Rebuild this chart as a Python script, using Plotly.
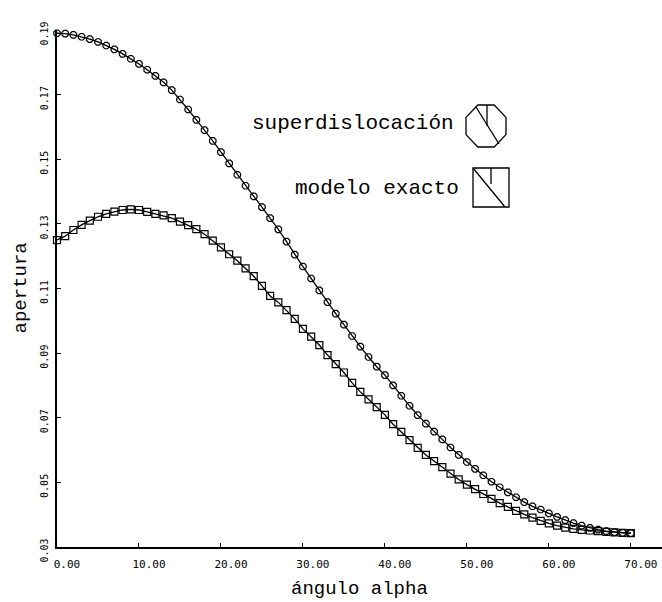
import plotly.graph_objects as go

alpha = list(range(0, 71))

superdislocacion = [
    0.1890, 0.1889, 0.1885, 0.1879, 0.1872, 0.1863, 0.1852, 0.1840, 0.1826, 0.1811,
    0.1795, 0.1777, 0.1758, 0.1738, 0.1714, 0.1685, 0.1654, 0.1622, 0.1590, 0.1557,
    0.1522, 0.1487, 0.1452, 0.1418, 0.1385, 0.1352, 0.1318, 0.1283, 0.1245, 0.1205,
    0.1168, 0.1131, 0.1094, 0.1058, 0.1022, 0.0988, 0.0953, 0.0920, 0.0888, 0.0858,
    0.0832, 0.0800, 0.0768, 0.0737, 0.0708, 0.0682, 0.0657, 0.0633, 0.0608, 0.0585,
    0.0563, 0.0542, 0.0522, 0.0502, 0.0485, 0.0469, 0.0454, 0.0439, 0.0426, 0.0416,
    0.0404, 0.0393, 0.0383, 0.0374, 0.0366, 0.0359, 0.0354, 0.0349, 0.0346, 0.0344,
    0.0343,
]

modelo_exacto = [
    0.1250, 0.1262, 0.1281, 0.1297, 0.1310, 0.1322, 0.1331, 0.1338, 0.1343, 0.1345,
    0.1343, 0.1337, 0.1331, 0.1326, 0.1318, 0.1307, 0.1296, 0.1284, 0.1268, 0.1248,
    0.1227, 0.1206, 0.1186, 0.1162, 0.1138, 0.1108, 0.1077, 0.1057, 0.1033, 0.1006,
    0.0975, 0.0951, 0.0925, 0.0894, 0.0866, 0.0840, 0.0808, 0.0780, 0.0757, 0.0733,
    0.0709, 0.0680, 0.0656, 0.0631, 0.0607, 0.0585, 0.0566, 0.0547, 0.0527, 0.0509,
    0.0493, 0.0479, 0.0464, 0.0449, 0.0436, 0.0424, 0.0412, 0.0401, 0.0391, 0.0381,
    0.0373, 0.0366, 0.0360, 0.0356, 0.0353, 0.0351, 0.0349, 0.0347, 0.0345, 0.0344,
    0.0343,
]

x_ticks = [0, 10, 20, 30, 40, 50, 60, 70]
x_tick_labels = ["0.00", "10.00", "20.00", "30.00", "40.00", "50.00", "60.00", "70.00"]
y_ticks = [0.03, 0.05, 0.07, 0.09, 0.11, 0.13, 0.15, 0.17, 0.19]
y_tick_labels = ["0.03", "0.05", "0.07", "0.09", "0.11", "0.13", "0.15", "0.17", "0.19"]

series_names = ["superdislocación", "modelo exacto"]
x_title = "ángulo alpha"
y_title = "apertura"

W, H = 662, 602
L, R, T, B = 57, 0, 30, 55
PW, PH = W - L - R, H - T - B


def px(xp):
    return (xp - L) / PW


def py(yp):
    return (H - B - yp) / PH


fig = go.Figure()
fig.add_trace(go.Scatter(
    x=alpha, y=superdislocacion, mode="lines+markers", name=series_names[0],
    line=dict(color="black", width=1.3),
    marker=dict(symbol="octagon-open", size=7, color="black", line=dict(width=1.2, color="black")),
    showlegend=False, cliponaxis=False,
))
fig.add_trace(go.Scatter(
    x=alpha, y=modelo_exacto, mode="lines+markers", name=series_names[1],
    line=dict(color="black", width=1.3),
    marker=dict(symbol="square-open", size=7, color="black", line=dict(width=1.2, color="black")),
    showlegend=False, cliponaxis=False,
))

mono = "Liberation Mono, DejaVu Sans Mono, monospace"

fig.update_xaxes(
    range=[0, 73.8], tickvals=x_ticks, ticktext=x_tick_labels,
    showgrid=False, zeroline=False, showline=True, linecolor="black", linewidth=1.5,
    ticks="inside", ticklen=4, tickcolor="black", tickwidth=1,
    tickfont=dict(family="DejaVu Sans Mono", size=11, color="black"),
    ticklabelshift=10, ticklabelstandoff=6, automargin=False,
)
fig.update_yaxes(
    range=[0.03, 0.19], tickvals=y_ticks, ticktext=y_tick_labels,
    showgrid=False, zeroline=False, showline=True, linecolor="black", linewidth=1.5,
    ticks="inside", ticklen=4, tickcolor="black", tickwidth=1,
    tickangle=-90,
    tickfont=dict(family="DejaVu Sans Mono", size=10, color="black"),
    ticklabelshift=5, ticklabelstandoff=3, automargin=False,
)

annotations = [
    dict(text=x_title, xref="paper", yref="paper", x=0.5, y=0, xanchor="center", yanchor="middle",
         yshift=-42, showarrow=False, font=dict(family=mono, size=19, color="black")),
    dict(text=y_title, xref="paper", yref="paper", x=0, y=0.5, xanchor="center", yanchor="middle",
         xshift=-37, textangle=-90, showarrow=False, font=dict(family=mono, size=19, color="black")),
    dict(text=series_names[0], xref="paper", yref="paper", x=px(456), y=py(124), xanchor="right",
         yanchor="middle", showarrow=False, font=dict(family=mono, size=21, color="black")),
    dict(text=series_names[1], xref="paper", yref="paper", x=px(461), y=py(188), xanchor="right",
         yanchor="middle", showarrow=False, font=dict(family=mono, size=21, color="black")),
]

# legend icons (decoration) in paper coordinates
cx, cy, rx, ry = 486, 126, 20, 21
k = 0.41
oct_pts = [(cx - rx * k, cy - ry), (cx + rx * k, cy - ry), (cx + rx, cy - ry * k), (cx + rx, cy + ry * k),
           (cx + rx * k, cy + ry), (cx - rx * k, cy + ry), (cx - rx, cy + ry * k), (cx - rx, cy - ry * k)]
oct_path = "M " + " L ".join(f"{px(a):.5f},{py(b):.5f}" for a, b in oct_pts) + " Z"
shapes = [
    dict(type="path", path=oct_path, xref="paper", yref="paper", line=dict(color="black", width=1.3)),
    dict(type="line", xref="paper", yref="paper", x0=px(487), y0=py(105), x1=px(487), y1=py(126),
         line=dict(color="black", width=1.3)),
    dict(type="line", xref="paper", yref="paper", x0=px(476), y0=py(107), x1=px(499), y1=py(144),
         line=dict(color="black", width=1.3)),
    dict(type="rect", xref="paper", yref="paper", x0=px(473), y0=py(168), x1=px(509), y1=py(207),
         line=dict(color="black", width=1.3)),
    dict(type="line", xref="paper", yref="paper", x0=px(491), y0=py(168), x1=px(491), y1=py(184),
         line=dict(color="black", width=1.3)),
    dict(type="line", xref="paper", yref="paper", x0=px(473), y0=py(168), x1=px(505), y1=py(207),
         line=dict(color="black", width=1.3)),
]

fig.update_layout(
    width=W, height=H,
    margin=dict(l=L, r=R, t=T, b=B, autoexpand=False),
    paper_bgcolor="white", plot_bgcolor="white",
    annotations=annotations, shapes=shapes,
    showlegend=False,
)

fig.write_html(
    "out.html",
    config={"displayModeBar": False},
    post_script="document.body.style.margin='0';document.body.style.overflow='hidden';",
)
